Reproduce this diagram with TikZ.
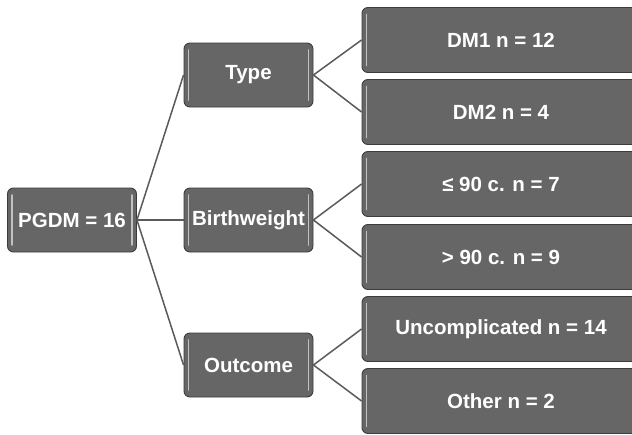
\documentclass[tikz,border=0pt]{standalone}
\usepackage{fontspec}
\setmainfont{Liberation Sans}
\definecolor{boxfill}{HTML}{666666}
\definecolor{boxedge}{HTML}{3C3C3C}
\definecolor{linkgray}{HTML}{5A5A5A}
\begin{document}
\begin{tikzpicture}[x=1pt,y=-1pt,
  gbox/.style={draw=boxedge, line width=0.9pt, fill=boxfill, rounded corners=6pt,
    text=white, font=\fontsize{20.5}{22}\selectfont\bfseries, inner sep=0pt,
    minimum height=64pt,
    path picture={
      \draw[white, opacity=0.6, line width=1.8pt, line cap=round]
        ([xshift=4.5pt,yshift=-7pt]path picture bounding box.north west) --
        ([xshift=4.5pt,yshift=7pt]path picture bounding box.south west);
      \draw[white, opacity=0.6, line width=1.8pt, line cap=round]
        ([xshift=-4.5pt,yshift=-7pt]path picture bounding box.north east) --
        ([xshift=-4.5pt,yshift=7pt]path picture bounding box.south east);
    }},
  midbox/.style={gbox, minimum width=129pt},
  leafbox/.style={gbox, minimum width=278pt, minimum height=65pt},
  link/.style={draw=linkgray, line width=1.5pt}]
\useasboundingbox (0,0) rectangle (632,434);
\fill[white] (0,0) rectangle (632,434);

% root
\node[midbox] (root) at (72,220) {PGDM = 16};

% second level
\node[midbox] (type)  at (248.5,75)  {Type};
\node[midbox] (bw)    at (248.5,220) {Birthweight};
\node[midbox] (out)   at (248.5,365) {Outcome};

% leaves
\node[leafbox] (dm1)  at (501,40)  {DM1 n = 12};
\node[leafbox] (dm2)  at (501,112) {DM2 n = 4};
\node[leafbox] (le90) at (501,184) {≤ 90 c. n = 7};
\node[leafbox] (gt90) at (501,257) {> 90 c. n = 9};
\node[leafbox] (unc)  at (501,329) {Uncomplicated n = 14};
\node[leafbox] (oth)  at (501,401) {Other n = 2};

% connectors
\draw[link] (root.east) -- (type.west);
\draw[link] (root.east) -- (bw.west);
\draw[link] (root.east) -- (out.west);
\draw[link] (type.east) -- (dm1.west);
\draw[link] (type.east) -- (dm2.west);
\draw[link] (bw.east) -- (le90.west);
\draw[link] (bw.east) -- (gt90.west);
\draw[link] (out.east) -- (unc.west);
\draw[link] (out.east) -- (oth.west);
\end{tikzpicture}
\end{document}
